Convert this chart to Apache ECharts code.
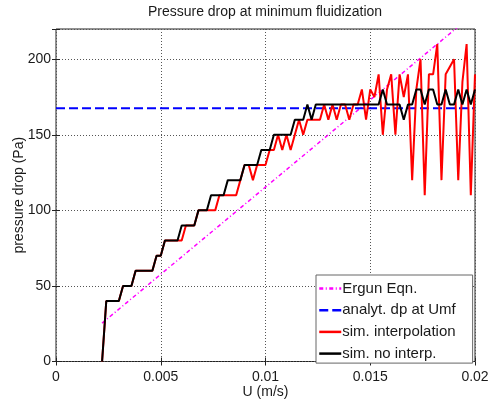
<!DOCTYPE html>
<html>
<head>
<meta charset="utf-8">
<script src="https://cdn.jsdelivr.net/npm/echarts@6/dist/echarts.min.js"></script>
<style>
  html, body { margin: 0; padding: 0; background: #fff; }
  #chart { width: 489px; height: 403px; }
</style>
</head>
<body>
<div id="chart"></div>
<script>
// Superficial velocity samples (m/s)
const uVals = [
  0.0022, 0.0024, 0.0026, 0.0028, 0.0030, 0.0032, 0.0034, 0.0036, 0.0038, 0.0040,
  0.0042, 0.0044, 0.0046, 0.0048, 0.0050, 0.0052, 0.0054, 0.0056, 0.0058, 0.0060,
  0.0062, 0.0064, 0.0066, 0.0068, 0.0070, 0.0072, 0.0074, 0.0076, 0.0078, 0.0080,
  0.0082, 0.0084, 0.0086, 0.0088, 0.0090, 0.0092, 0.0094, 0.0096, 0.0098, 0.0100,
  0.0102, 0.0104, 0.0106, 0.0108, 0.0110, 0.0112, 0.0114, 0.0116, 0.0118, 0.0120,
  0.0122, 0.0124, 0.0126, 0.0128, 0.0130, 0.0132, 0.0134, 0.0136, 0.0138, 0.0140,
  0.0142, 0.0144, 0.0146, 0.0148, 0.0150, 0.0152, 0.0154, 0.0156, 0.0158, 0.0160,
  0.0162, 0.0164, 0.0166, 0.0168, 0.0170, 0.0172, 0.0174, 0.0176, 0.0178, 0.0180,
  0.0182, 0.0184, 0.0186, 0.0188, 0.0190, 0.0192, 0.0194, 0.0196, 0.0198, 0.0200
];

// Simulated pressure drop, interpolated (Pa)
const dpInterp = [
    0,  40,  40,  40,  40,  50,  50,  50,  60,  60,
   60,  60,  60,  70,  70,  80,  80,  80,  80,  80,
   90,  90,  90, 100, 100, 100, 100, 100, 110, 110,
  110, 110, 110, 120, 130, 130, 120, 130, 130, 130,
  140, 140, 150, 140, 150, 140, 150, 160, 150, 160,
  160, 160, 160, 170, 160, 170, 160, 170, 170, 160,
  170, 170, 180, 160, 180, 175, 190, 150, 180, 190,
  150, 190, 175, 190, 120, 180, 200, 110, 190, 190,
  210, 120, 190, 195, 200, 120, 185, 210, 110, 190
];

// Simulated pressure drop, no interpolation (Pa)
const dpNoInterp = [
    0,  40,  40,  40,  40,  50,  50,  50,  60,  60,
   60,  60,  60,  70,  70,  80,  80,  80,  80,  90,
   90,  90,  90, 100, 100, 100, 110, 110, 110, 110,
  120, 120, 120, 120, 130, 130, 130, 130, 140, 140,
  140, 150, 150, 150, 150, 150, 160, 160, 160, 170,
  160, 170, 170, 170, 170, 170, 170, 170, 170, 170,
  170, 170, 170, 170, 170, 170, 170, 180, 170, 170,
  170, 170, 160, 170, 170, 180, 180, 170, 180, 180,
  170, 170, 180, 170, 170, 180, 170, 180, 170, 180
];

// Ergun equation end points (U, dp)
const ergunU = [0.0022, 0.0200];
const ergunDp = [25.4, 230.8];

// Analytical pressure drop at minimum fluidization (Pa)
const dpUmf = 167.5;
const umfRange = [0, 0.02];

const xTickLabels = ['0', '0.005', '0.01', '0.015', '0.02'];
const yTickLabels = ['0', '50', '100', '150', '200'];

const seriesNames = ['Ergun Eqn.', 'analyt. dp at Umf', 'sim. interpolation', 'sim. no interp.'];

const FONT = '"Liberation Sans", Arial, Helvetica, sans-serif';
const TXT = '#1a1a1a';

const zip = (xs, ys) => xs.map((x, i) => [x, ys[i]]);

const chart = echarts.init(document.getElementById('chart'), null, { renderer: 'canvas' });

const tickStyle = { inside: true, length: 4, lineStyle: { color: '#222', width: 1 } };
const gridLine = { show: true, lineStyle: { color: '#555', width: 1, type: [1, 2] } };

const GRID_L = 56, GRID_R = 14;

chart.setOption({
  animation: false,
  backgroundColor: '#fff',
  textStyle: { fontFamily: FONT },
  title: {
    text: 'Pressure drop at minimum fluidization',
    left: 260,
    textAlign: 'center',
    top: 0,
    textStyle: { fontSize: 14, fontWeight: 'normal', color: TXT, fontFamily: FONT }
  },
  grid: {
    left: GRID_L, right: GRID_R, top: 29, bottom: 41.5,
    outerBoundsMode: 'none',
    show: true, borderColor: '#222', borderWidth: 1, backgroundColor: '#fff'
  },
  xAxis: [
    {
      type: 'value', min: 0, max: 0.02, interval: 0.005,
      axisLine: { show: false },
      axisTick: tickStyle,
      splitLine: gridLine,
      axisLabel: {
        fontSize: 14, color: TXT, fontFamily: FONT, margin: 9,
        formatter: (v) => xTickLabels[Math.round(v / 0.005)]
      },
      name: 'U (m/s)', nameLocation: 'middle', nameGap: 24, nameMoveOverlap: false,
      nameTextStyle: { fontSize: 14, color: TXT, fontFamily: FONT }
    },
    {
      type: 'value', position: 'top', min: 0, max: 0.02, interval: 0.005,
      axisLine: { show: false }, axisTick: tickStyle,
      axisLabel: { show: false }, splitLine: { show: false }
    }
  ],
  yAxis: [
    {
      type: 'value', min: 0, max: 220, interval: 50,
      axisLine: { show: false },
      axisTick: tickStyle,
      splitLine: gridLine,
      axisLabel: {
        fontSize: 14, color: TXT, fontFamily: FONT, margin: 5,
        formatter: (v) => (v % 50 === 0 ? yTickLabels[v / 50] : '')
      },
      name: 'pressure drop (Pa)', nameLocation: 'middle', nameGap: 30, nameMoveOverlap: false,
      nameTextStyle: { fontSize: 14, color: TXT, fontFamily: FONT }
    },
    {
      type: 'value', position: 'right', min: 0, max: 220, interval: 50,
      axisLine: { show: false }, axisTick: tickStyle,
      axisLabel: { show: false }, splitLine: { show: false }
    }
  ],
  legend: {
    orient: 'vertical',
    left: 316, top: 275,
    backgroundColor: '#fff',
    borderColor: '#666', borderWidth: 1, borderRadius: 0,
    padding: [6, 17, 2, 2],
    itemWidth: 22, itemHeight: 14, itemGap: 6.7,
    itemStyle: { opacity: 0 },
    lineStyle: { width: 2.5 },
    textStyle: { fontSize: 15, color: TXT, fontFamily: FONT, padding: [0, 0, 0, -4] },
    data: seriesNames
  },
  series: [
    {
      name: seriesNames[0], type: 'line', symbol: 'none',
      data: zip(ergunU, ergunDp),
      lineStyle: { color: '#ff00ff', width: 1.5, type: [4, 2.5, 1, 2.5] },
      itemStyle: { color: '#ff00ff' }, z: 2
    },
    {
      name: seriesNames[1], type: 'line', symbol: 'none',
      data: umfRange.map((u) => [u, dpUmf]),
      lineStyle: { color: '#0000ff', width: 2, type: [9, 4] },
      itemStyle: { color: '#0000ff' }, z: 3
    },
    {
      name: seriesNames[2], type: 'line', symbol: 'none',
      data: zip(uVals, dpInterp),
      lineStyle: { color: '#ff0000', width: 2 },
      itemStyle: { color: '#ff0000' }, z: 4
    },
    {
      name: seriesNames[3], type: 'line', symbol: 'none',
      data: zip(uVals, dpNoInterp),
      lineStyle: { color: '#000000', width: 2 },
      itemStyle: { color: '#000000' }, z: 5
    }
  ]
});
</script>
</body>
</html>
